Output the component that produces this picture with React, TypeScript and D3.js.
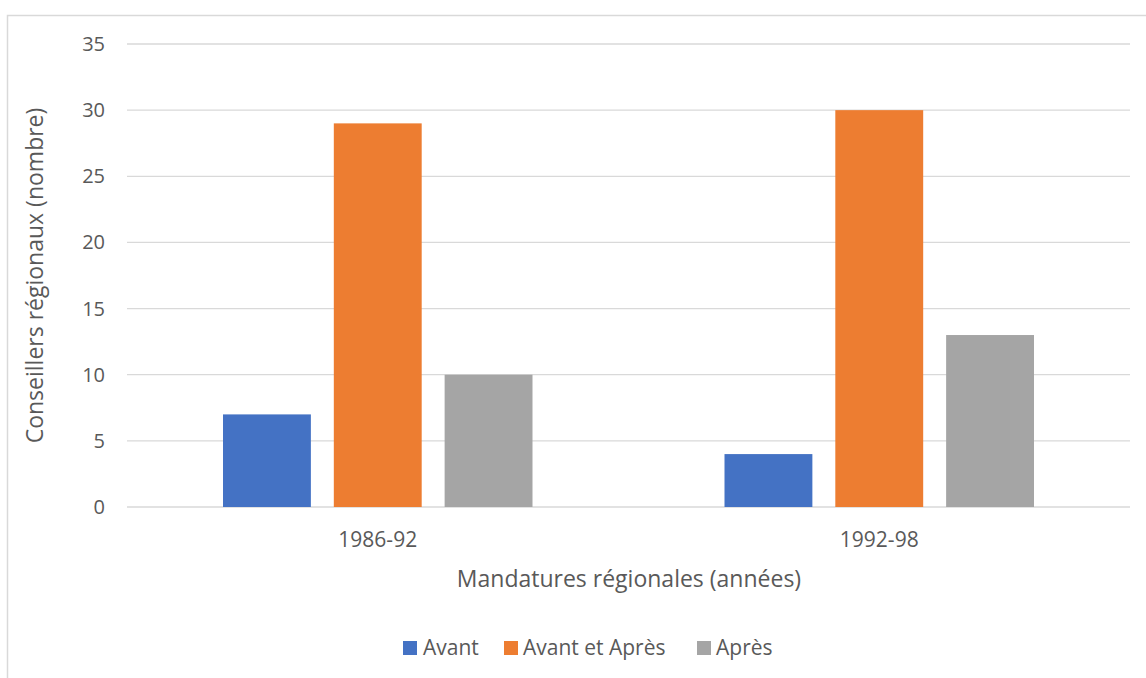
import React from "react";
import * as d3 from "d3";

const categories = ["1986-92", "1992-98"];
const seriesNames = ["Avant", "Avant et Après", "Après"];
const avant = [7, 4];
const avantEtApres = [29, 30];
const apres = [10, 13];
const yTicks = [0, 5, 10, 15, 20, 25, 30, 35];
const colors = ["#4472C4", "#ED7D31", "#A5A5A5"];

export default function App() {
  const W = 1146, H = 678;
  const left = 127, right = 1130, top = 44, bottom = 507;
  const x = d3.scaleBand<string>().domain(categories).range([left, right]);
  const inner = d3.scaleBand<string>().domain(seriesNames).range([96, x.bandwidth() - 96]).paddingInner(0.207).paddingOuter(0);
  const y = d3.scaleLinear().domain([0, 35]).range([bottom, top]);
  const series = [avant, avantEtApres, apres];
  const font = "'Open Sans', sans-serif";
  const txt = "#595959";
  const legendItems = [
    { x: 403, textX: 423 },
    { x: 504, textX: 523 },
    { x: 697, textX: 716 },
  ];
  return (
    <svg width={W} height={H} style={{ position: "absolute", left: 0, top: 0 }} fontFamily={font}>
      <rect x={0} y={0} width={W} height={H} fill="#fff" />
      <path d={`M7.5,${H + 5} V15.5 H${W + 5}`} fill="none" stroke="#d9d9d9" strokeWidth={1.5} />
      {yTicks.map((t) => (
        <g key={t}>
          <line x1={left} x2={right} y1={y(t)} y2={y(t)} stroke="#d9d9d9" strokeWidth={1.3} />
          <text x={105} y={y(t)} dy="0.35em" textAnchor="end" fontSize={20} fill={txt}>{t}</text>
        </g>
      ))}
      {categories.map((c, ci) =>
        series.map((s, si) => (
          <rect key={c + si} x={(x(c) || 0) + (inner(seriesNames[si]) || 0)} width={inner.bandwidth()}
            y={y(s[ci])} height={bottom - y(s[ci])} fill={colors[si]} />
        ))
      )}
      {categories.map((c) => (
        <text key={c} x={(x(c) || 0) + x.bandwidth() / 2} y={547} textAnchor="middle" fontSize={21} fill={txt}>{c}</text>
      ))}
      <text x={629} y={587} textAnchor="middle" fontSize={23} fill={txt}>Mandatures régionales (années)</text>
      <text transform={`translate(43,${(top + bottom) / 2}) rotate(-90)`} textAnchor="middle" fontSize={23} fill={txt}>Conseillers régionaux (nombre)</text>
      {seriesNames.map((n, i) => (
        <g key={n}>
          <rect x={legendItems[i].x} y={641} width={14} height={14} fill={colors[i]} />
          <text x={legendItems[i].textX} y={655} fontSize={21} fill={txt}>{n}</text>
        </g>
      ))}
    </svg>
  );
}
